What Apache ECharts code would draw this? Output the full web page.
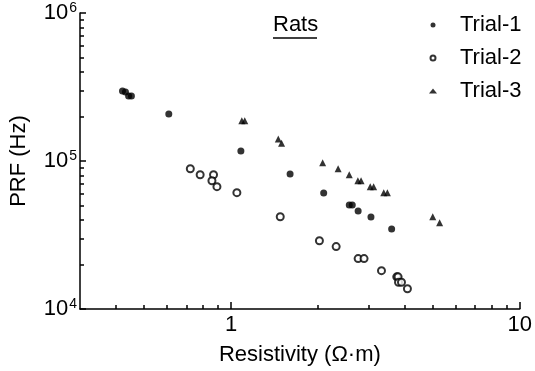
<!DOCTYPE html>
<html><head><meta charset="utf-8">
<script src="https://cdn.jsdelivr.net/npm/echarts@6/dist/echarts.min.js"></script>
<style>html,body{margin:0;padding:0;background:#fff}#c{width:535px;height:371px}</style>
</head><body><div id="c"></div>
<script>
const seriesNames = ['Trial-1', 'Trial-2', 'Trial-3'];
const trial1X = [0.421, 0.431, 0.442, 0.452, 0.609, 1.082, 1.602, 2.094, 2.568, 2.63, 2.756, 3.053, 3.6];
const trial1Y = [297000, 292000, 275000, 275000, 208000, 117000, 81700, 60800, 50400, 50400, 45900, 41800, 34700];
const trial2X = [0.723, 0.782, 0.870, 0.859, 0.894, 1.048, 1.481, 2.024, 2.313, 2.756, 2.889, 3.32, 3.75, 3.79, 3.803, 3.894, 4.083];
const trial2Y = [88700, 80800, 80800, 73600, 67100, 61100, 42000, 28900, 26400, 21900, 21900, 18150, 16500, 16500, 15150, 15150, 13700];
const trial3X = [1.09, 1.116, 1.458, 1.497, 2.077, 2.35, 2.568, 2.75, 2.821, 3.036, 3.118, 3.381, 3.48, 4.996, 5.279];
const trial3Y = [187000, 187000, 140800, 131700, 97400, 88700, 80800, 73600, 73600, 67100, 67100, 61100, 61100, 42000, 38300];
const xMajorTicks = [1, 10];
const xMinorTicks = [0.4, 0.5, 0.6, 0.7, 0.8, 0.9, 2, 3, 4, 5, 6, 7, 8, 9];
const yMajorTicks = [1e4, 1e5, 1e6];
const yMinorTicks = [2e4, 3e4, 4e4, 5e4, 6e4, 7e4, 8e4, 9e4, 2e5, 3e5, 4e5, 5e5, 6e5, 7e5, 8e5, 9e5];
const xTitle = 'Resistivity (Ω·m)';
const yTitle = 'PRF (Hz)';
const annotation = 'Rats';

const FONT = '"Liberation Sans", Arial, sans-serif';
const pts = (xs, ys) => xs.map((x, i) => [x, ys[i]]);
const lineSt = { color: '#000', width: 1.5 };

const chart = echarts.init(document.getElementById('c'), null, { renderer: 'canvas' });
chart.setOption({
  animation: false,
  backgroundColor: '#fff',
  grid: { left: 75, right: 15, top: 13, bottom: 62 },
  xAxis: [
    {
      type: 'log', logBase: 10, min: 0.3, max: 10,
      axisLine: { lineStyle: lineSt },
      axisTick: { inside: true, length: 7, customValues: xMajorTicks, lineStyle: lineSt },
      axisLabel: { customValues: xMajorTicks, fontSize: 22, color: '#000', fontFamily: FONT, margin: 5,
        formatter: v => String(v) },
      splitLine: { show: false },
      name: xTitle, nameLocation: 'middle', nameGap: 35,
      nameTextStyle: { fontSize: 22, color: '#000', fontFamily: FONT }
    },
    {
      type: 'log', logBase: 10, min: 0.3, max: 10, position: 'bottom',
      axisLine: { show: false },
      axisTick: { inside: true, length: 4, customValues: xMinorTicks, lineStyle: lineSt },
      axisLabel: { show: false }, splitLine: { show: false }
    }
  ],
  yAxis: [
    {
      type: 'log', logBase: 10, min: 1e4, max: 1e6,
      axisLine: { lineStyle: lineSt },
      axisTick: { inside: true, length: 6, customValues: yMajorTicks, lineStyle: lineSt },
      axisLabel: {
        customValues: yMajorTicks, margin: 3, color: '#000', fontFamily: FONT,
        formatter: v => '{b|10}{s|' + Math.round(Math.log10(v)) + '}',
        rich: {
          b: { fontSize: 22, fontFamily: FONT, color: '#000' },
          s: { fontSize: 14, fontFamily: FONT, color: '#000', verticalAlign: 'top', padding: [0, 0, 10, 1] }
        }
      },
      splitLine: { show: false },
      name: yTitle, nameLocation: 'middle', nameGap: 50,
      nameTextStyle: { fontSize: 22, color: '#000', fontFamily: FONT }
    },
    {
      type: 'log', logBase: 10, min: 1e4, max: 1e6, position: 'left',
      axisLine: { show: false },
      axisTick: { inside: true, length: 4, customValues: yMinorTicks, lineStyle: lineSt },
      axisLabel: { show: false }, splitLine: { show: false }
    }
  ],
  legend: {
    orient: 'vertical', left: 429, top: 14, padding: 0,
    itemWidth: 8, itemHeight: 5, itemGap: 11,
    data: seriesNames,
    textStyle: { fontSize: 22, color: '#000', fontFamily: FONT, lineHeight: 22, padding: [0, 0, 0, 18] }
  },
  graphic: [
    { type: 'text', left: 273, top: 14, style: { text: annotation, fontSize: 22, fontFamily: FONT, fill: '#000' } },
    { type: 'line', shape: { x1: 273, y1: 38, x2: 317, y2: 38 }, style: { stroke: '#000', lineWidth: 1.5 } }
  ],
  series: [
    { name: seriesNames[0], type: 'scatter', symbol: 'circle', symbolSize: 7, symbolKeepAspect: true,
      itemStyle: { color: '#000' }, data: pts(trial1X, trial1Y) },
    { name: seriesNames[1], type: 'scatter', symbol: 'emptyCircle', symbolSize: 7, symbolKeepAspect: true,
      itemStyle: { color: '#000', borderColor: '#000', borderWidth: 1.5 }, data: pts(trial2X, trial2Y) },
    { name: seriesNames[2], type: 'scatter', symbol: 'triangle', symbolSize: 7, symbolKeepAspect: true,
      itemStyle: { color: '#000' }, data: pts(trial3X, trial3Y) }
  ]
});
</script>
</body></html>
